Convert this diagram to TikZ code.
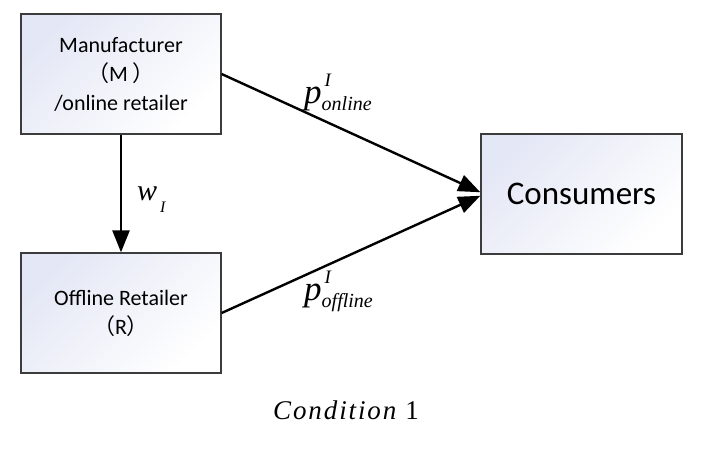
\documentclass[tikz,border=0pt]{standalone}
\usepackage{fontspec}
\setmainfont{Carlito}
\newfontfamily\tms{Liberation Serif}
\newfontfamily\cjk{Noto Sans CJK SC}
\usetikzlibrary{arrows.meta}
\definecolor{lav}{RGB}{228,231,245}
\definecolor{edge}{RGB}{60,60,60}
\tikzset{
  boxnode/.style={draw=edge, line width=1.3pt, top color=lav, bottom color=white, shading angle=45,
    minimum width=200pt, minimum height=120pt, inner sep=0pt, align=center,
    font=\fontsize{22}{29}\selectfont},
  flow/.style={line width=2.4pt, -{Triangle[length=22pt,width=17pt]}},
  mathlbl/.style={inner sep=0pt, font=\tms\itshape},
}
\begin{document}
\begin{tikzpicture}[x=1pt,y=-1pt]
\useasboundingbox (0,0) rectangle (701,451);
\node[boxnode] (M) at (121,74) {Manufacturer\\{\cjk（}M {\cjk）}\\/online retailer};
\node[boxnode] (R) at (121,313) {Offline Retailer\\{\cjk（}R{\cjk）}};
\node[boxnode, minimum width=201pt, font=\fontsize{33}{38}\selectfont] (C) at (581.5,194) {Consumers};
\draw[flow] (M.south) -- (R.north);
\draw[flow] (M.east) -- (C.179);
\draw[flow] (R.east) -- (C.181);
\node[mathlbl, anchor=base west] (pon) at (304,103) {\fontsize{35}{35}\selectfont p\rlap{\raisebox{17pt}{\fontsize{19}{19}\selectfont\hspace{3pt}I}}\raisebox{-7pt}{\fontsize{20}{20}\selectfont online}};
\node[mathlbl, anchor=base west] (poff) at (304,300) {\fontsize{35}{35}\selectfont p\rlap{\raisebox{17pt}{\fontsize{19}{19}\selectfont\hspace{3pt}I}}\raisebox{-7pt}{\fontsize{20}{20}\selectfont offline}};
\node[mathlbl, anchor=base west] (w) at (137,200) {\fontsize{30}{30}\selectfont w\raisebox{-12pt}{\fontsize{16}{16}\selectfont\hspace{3pt}I}};
\node[mathlbl, anchor=base] (cond) at (346,419) {\fontsize{27}{27}\selectfont\addfontfeature{LetterSpace=7}Condition\hspace{9pt}\upshape 1};
\end{tikzpicture}
\end{document}
